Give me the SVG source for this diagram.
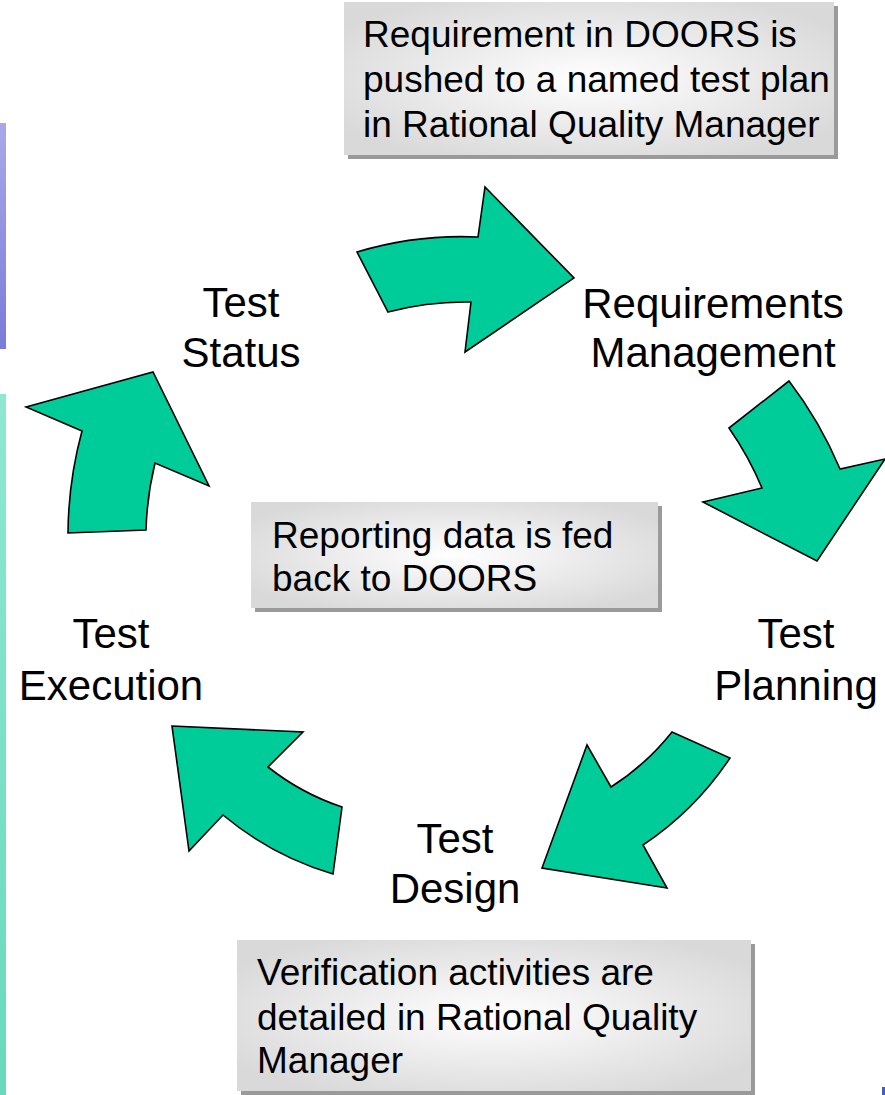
<svg xmlns="http://www.w3.org/2000/svg" width="885" height="1095" viewBox="0 0 885 1095">
<defs>
<linearGradient id="barPurple" x1="0" y1="0" x2="0" y2="1">
<stop offset="0" stop-color="#a9a9e9"/>
<stop offset="1" stop-color="#7b7bd9"/>
</linearGradient>
<linearGradient id="barTeal" x1="0" y1="0" x2="0" y2="1">
<stop offset="0" stop-color="#8ee8d2"/>
<stop offset="1" stop-color="#6ad8bc"/>
</linearGradient>
<radialGradient id="boxFill" cx="0.5" cy="0.5" r="0.6">
<stop offset="0" stop-color="#ffffff"/>
<stop offset="1" stop-color="#d9d9d9"/>
</radialGradient>
<style>
.arrow{fill:#00cc99;stroke:#000;stroke-width:1.6;stroke-linejoin:miter}
.shadow{fill:#9a9a9a}
.box{fill:url(#boxFill)}
.note{font-family:"Liberation Sans",Arial,sans-serif;font-size:37px;fill:#000}
.label{font-family:"Liberation Sans",Arial,sans-serif;font-size:42px;fill:#000;text-anchor:middle}
</style>
</defs>
<rect x="0" y="0" width="885" height="1095" fill="#ffffff"/>
<rect x="0" y="123" width="6" height="226" fill="url(#barPurple)"/>
<rect x="0" y="394" width="6" height="701" fill="url(#barTeal)"/>
<rect x="882" y="1087" width="3" height="8" fill="#4060c0"/>

<g id="connectors">
<path id="arrow-status-req" class="arrow" d="M357,252 A362,362 0 0 1 478,237 L485,187 L574,278 L465,352 L471,302 A297,297 0 0 0 388,312 Z"/>
<path id="arrow-req-plan" class="arrow" d="M789,381 L729,428 A325,325 0 0 1 762,488 L703,502 L817,561 L885,459 L840,469 A403,403 0 0 0 789,381 Z"/>
<path id="arrow-plan-design" class="arrow" d="M672,732 L730,758 A313,313 0 0 1 643,845 L667,888 L542,868 L587,745 L611,787 A250,250 0 0 0 672,732 Z"/>
<path id="arrow-design-exec" class="arrow" d="M172,726 L303,732 L268,767 A243,243 0 0 0 342,807 L333,874 A308,308 0 0 1 223,815 L189,851 Z"/>
<path id="arrow-exec-status" class="arrow" d="M26,407 L153,372 L209,486 L155,463 A323,323 0 0 0 146,530 L68,533 A400,400 0 0 1 82,431 Z"/>
</g>

<g id="note-requirement">
<rect class="shadow" x="348" y="6" width="490" height="153"/>
<rect class="box" x="344" y="2" width="490" height="153"/>
<text class="note" x="363" y="47">Requirement in DOORS is</text>
<text class="note" x="363" y="92">pushed to a named test plan</text>
<text class="note" x="363" y="137">in Rational Quality Manager</text>
</g>

<g id="note-reporting">
<rect class="shadow" x="255" y="506" width="407" height="106"/>
<rect class="box" x="251" y="502" width="407" height="106"/>
<text class="note" x="272" y="548">Reporting data is fed</text>
<text class="note" x="272" y="591">back to DOORS</text>
</g>

<g id="note-verification">
<rect class="shadow" x="241" y="944" width="514" height="151"/>
<rect class="box" x="237" y="940" width="514" height="151"/>
<text class="note" x="257" y="985">Verification activities are</text>
<text class="note" x="257" y="1030">detailed in Rational Quality</text>
<text class="note" x="257" y="1073">Manager</text>
</g>

<g id="node-requirements-management">
<text class="label" x="713" y="318">Requirements</text>
<text class="label" x="713" y="367">Management</text>
</g>
<g id="node-test-planning">
<text class="label" x="796" y="648">Test</text>
<text class="label" x="796" y="700">Planning</text>
</g>
<g id="node-test-design">
<text class="label" x="455" y="853">Test</text>
<text class="label" x="455" y="903">Design</text>
</g>
<g id="node-test-execution">
<text class="label" x="111" y="648">Test</text>
<text class="label" x="111" y="700">Execution</text>
</g>
<g id="node-test-status">
<text class="label" x="241" y="317">Test</text>
<text class="label" x="241" y="367">Status</text>
</g>
</svg>
